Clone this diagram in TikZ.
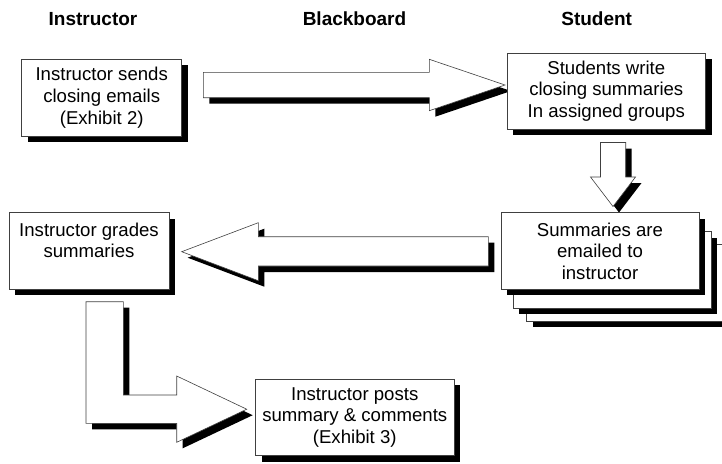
\documentclass[tikz,border=0pt]{standalone}
\usepackage{fontspec}
\setmainfont{Liberation Sans}
\usetikzlibrary{shadows}
\begin{document}
\begin{tikzpicture}[x=1pt,y=-1pt,
  shad/.style={general shadow={shadow xshift=6pt, shadow yshift=-6pt, fill=black, draw=none}},
  boxnode/.style={draw=black!75, line width=0.75pt, fill=white, inner sep=0pt,
    minimum width=#1, minimum height=76.7pt, align=center,
    font=\fontsize{18.6}{21.6}\selectfont, shad},
  blockarrow/.style={draw=black!75, line width=0.6pt, fill=white, line join=miter, shad},
  title/.style={font=\fontsize{19}{22}\selectfont\bfseries, anchor=base, inner sep=0pt}]
\useasboundingbox (0,0) rectangle (722,463);

% column titles
\node[title] (tinstr) at (93,25.7) {Instructor};
\node[title] (tboard) at (354.5,25.7) {Blackboard};
\node[title] (tstud)  at (596.7,25.7) {Student};

% block arrows
\path[blockarrow] (203.3,72.3) -- (429.3,72.3) -- (429.3,59.3) -- (505,85)
  -- (429.3,110.7) -- (429.3,97.7) -- (203.3,97.7) -- cycle;
\path[blockarrow] (600.5,142.5) -- (625.7,142.5) -- (625.7,177) -- (635.5,177)
  -- (613,206.5) -- (590.5,177) -- (600.5,177) -- cycle;
\path[blockarrow] (488.3,236.7) -- (258.3,236.7) -- (258.3,222.7) -- (181.7,251.7)
  -- (258.3,280.7) -- (258.3,266) -- (488.3,266) -- cycle;
\path[blockarrow] (86,301.7) -- (123.3,301.7) -- (123.3,395) -- (176.7,395)
  -- (176.7,376) -- (246.7,409.2) -- (176.7,442.3) -- (176.7,423.3) -- (86,423.3) -- cycle;

% boxes
\node[boxnode=160pt] (b1) at (101.7,97.65) {Instructor sends\\closing emails\\(Exhibit 2)};
\node[boxnode=198.5pt, minimum height=76pt] (b2) at (606.3,91) {Students write\\closing summaries\\In assigned groups};
\node[boxnode=160pt] (b3) at (89,251) {Instructor grades\\summaries\\\phantom{I}};
\node[boxnode=198pt] (s3) at (625.7,282.7) {};
\node[boxnode=198pt] (s2) at (612.3,270) {};
\node[boxnode=198pt] (b4) at (600,251) {Summaries are\\emailed to\\instructor};
\node[boxnode=198.5pt] (b5) at (354.75,417.35) {Instructor posts\\summary \& comments\\(Exhibit 3)};
\end{tikzpicture}
\end{document}
